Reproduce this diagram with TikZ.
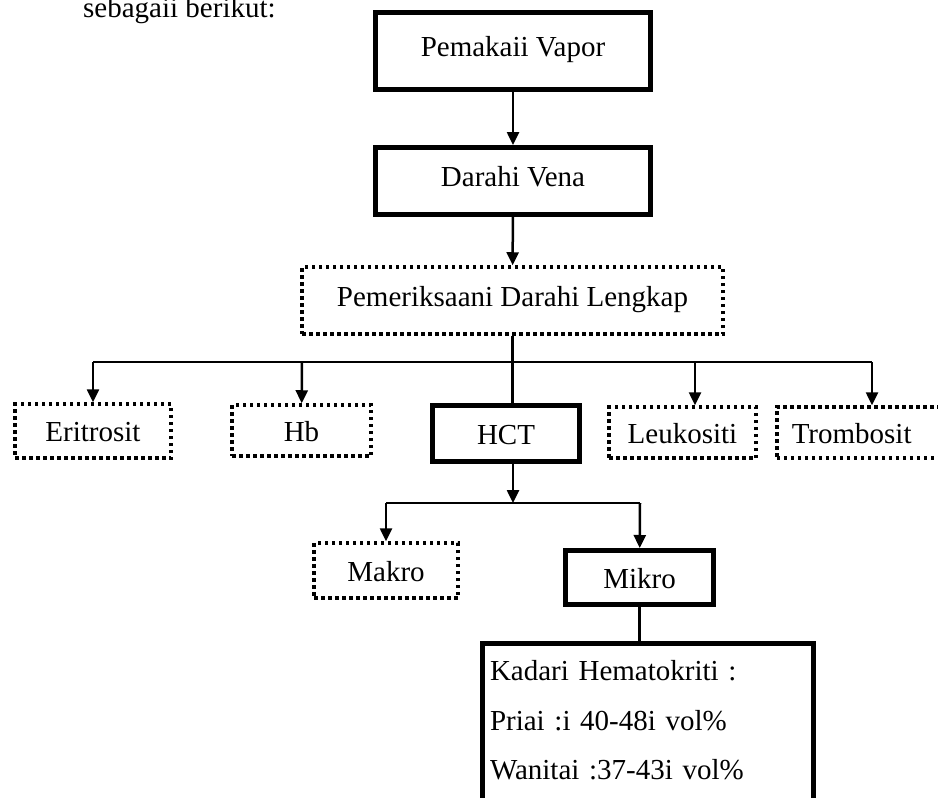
\documentclass[tikz,border=0pt]{standalone}
\usepackage{fontspec}
\setmainfont{Liberation Serif}
\usetikzlibrary{arrows.meta}

\begin{document}
\begin{tikzpicture}[x=1pt,y=-1pt,>={Triangle[length=13pt,width=12pt]},
    font=\fontsize{29}{34.8}\selectfont,
    box/.style={inner sep=0pt,text height=21.6pt,text depth=0pt},
    solid box/.style={box,draw,line width=5pt},
    dot box/.style={box,draw,line width=3.5pt,dash pattern=on 3.5pt off 3.5pt},
    high text/.style={text height=19.6pt,text depth=8.6pt},
    link/.style={line width=2.5pt}]

            \useasboundingbox (0,0) rectangle (938,798);

            \node[anchor=base west, inner sep=0pt] (intro) at (83,17) {sebagaii berikut:};

            \node[solid box, high text, minimum width=275pt, minimum height=77pt] (pv) at (513,51) {Pemakaii Vapor};
            \node[solid box, high text, minimum width=275pt, minimum height=67pt] (dv) at (513,181) {Darahi Vena};
            \node[dot box, high text, minimum width=421pt, minimum height=67pt] (pdl) at (512.5,300.5) {Pemeriksaani Darahi Lengkap};

            \node[dot box, minimum width=156pt, minimum height=54pt] (eri) at (93,431) {Eritrosit};
            \node[dot box, minimum width=139pt, minimum height=51pt] (hb) at (301.5,430.5) {Hb};
            \node[solid box, minimum width=147pt, minimum height=56pt] (hct) at (506,433.5) {HCT};
            \node[dot box, minimum width=147pt, minimum height=51pt] (leu) at (682.5,432.5) {Leukositi};
            \node[dot box, anchor=west, text width=170pt, align=left, inner xsep=15pt, minimum height=51pt] (tro) at (775,432.5) {Trombosit};

            \node[dot box, minimum width=144pt, minimum height=55pt] (mak) at (386,570.5) {Makro};
            \node[solid box, minimum width=148pt, minimum height=54pt] (mik) at (639.5,577.5) {Mikro};

            \node[solid box, anchor=north west, text width=315pt, align=left, inner xsep=8pt, inner ysep=16pt, text depth=150pt,
                  font=\fontsize{29}{49.5}\selectfont] (kad) at (479.5,640.5)
                  {Kadari Hematokriti :\\Priai :i 40-48i vol\%\\Wanitai :37-43i vol\%};

            \node[anchor=base west, inner sep=0pt] (page) at (925,818) {1};

            \coordinate (b1) at (93,362);
            \coordinate (b2) at (302,362);
            \coordinate (b4) at (695,362);
            \coordinate (b5) at (872,362);
            \coordinate (c0) at (513,503);
            \coordinate (c1) at (386,503);
            \coordinate (c2) at (640,503);

            \draw[link,->] (pv) -- (dv);
            \draw[link,->] (dv) -- (pdl);
            \draw[link] (pdl.south) -- (pdl.south |- hct.north);
            \draw[link] (b1) -- (b5);
            \draw[link,->] (b1) -- (eri);
            \draw[link,->] (b2) -- (hb);
            \draw[link,->] (b4) -- (b4 |- leu.north);
            \draw[link,->] (b5) -- (b5 |- tro.north);

            \draw[link,->] (hct.south -| c0) -- (c0);
            \draw[link] (c1) -- (c2);
            \draw[link,->] (c1) -- (mak);
            \draw[link,->] (c2) -- (mik);
            \draw[link] (mik) -- (mik.south |- kad.north);

        \end{tikzpicture}
\end{document}
